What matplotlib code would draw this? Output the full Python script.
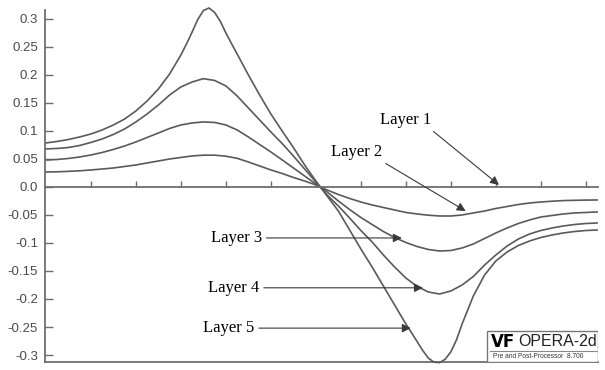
import matplotlib
matplotlib.use("Agg")
import matplotlib.pyplot as plt
from matplotlib.patches import Rectangle

# position along the line (arbitrary units, curves cross near 0)
x_pos = [-60, -57.5, -55, -52.5, -50, -47.5, -45, -42.5, -40, -37.5, -35, -32.5,
         -30, -27.5, -25, -22.5, -20, -17.5, -15, -12.5, -10, -7.5, -5, -2.5,
         0, 2.5, 5, 7.5, 10, 12.5, 15, 17.5, 20, 22.5, 25, 27.5,
         30, 32.5, 35, 37.5, 40, 42.5, 45, 47.5, 50, 52.5, 55, 57.5, 60, 62.5]

# field values, one list per layer
layer2 = [0.0268, 0.0271, 0.0279, 0.0289, 0.0304, 0.0321, 0.0339, 0.0366, 0.0393, 0.0429,
          0.0464, 0.0500, 0.0527, 0.0554, 0.0568, 0.0568, 0.0550, 0.0512, 0.0446, 0.0375,
          0.0304, 0.0241, 0.0170, 0.0107, 0.0036, -0.0054, -0.0134, -0.0205, -0.0268, -0.0321,
          -0.0366, -0.0411, -0.0455, -0.0482, -0.0504, -0.0518, -0.0518, -0.0500, -0.0464, -0.0429,
          -0.0384, -0.0348, -0.0313, -0.0286, -0.0268, -0.0254, -0.0243, -0.0238, -0.0234, -0.0232]
layer3 = [0.0482, 0.0491, 0.0509, 0.0536, 0.0571, 0.0616, 0.0670, 0.0732, 0.0804, 0.0884,
          0.0964, 0.1045, 0.1107, 0.1143, 0.1161, 0.1152, 0.1107, 0.1018, 0.0893, 0.0759,
          0.0625, 0.0484, 0.0340, 0.0196, 0.0054, -0.0089, -0.0250, -0.0402, -0.0545, -0.0670,
          -0.0795, -0.0902, -0.0991, -0.1063, -0.1116, -0.1143, -0.1134, -0.1089, -0.1018, -0.0920,
          -0.0821, -0.0732, -0.0652, -0.0589, -0.0536, -0.0509, -0.0482, -0.0464, -0.0455, -0.0446]
layer4 = [0.0679, 0.0688, 0.0705, 0.0741, 0.0795, 0.0857, 0.0938, 0.1036, 0.1161, 0.1304,
          0.1464, 0.1643, 0.1786, 0.1875, 0.1934, 0.1902, 0.1804, 0.1625, 0.1411, 0.1196,
          0.0982, 0.0777, 0.0554, 0.0321, 0.0089, -0.0143, -0.0339, -0.0554, -0.0777, -0.0982,
          -0.1214, -0.1429, -0.1625, -0.1777, -0.1875, -0.1911, -0.1857, -0.1750, -0.1598, -0.1393,
          -0.1214, -0.1054, -0.0929, -0.0839, -0.0777, -0.0732, -0.0696, -0.0670, -0.0652, -0.0643]

# layer 5 has sharper extremes, so it was read at a few extra positions
x_pos5 = [-60, -57.5, -55, -52.5, -50, -47.5, -45, -42.5, -40, -37.5, -35, -32.5,
          -30, -28.75, -27.5, -26.25, -25, -23.75, -22.5, -21.25, -20, -18.75, -17.5,
          -15, -12.5, -10, -7.5, -5, -2.5, 0, 2.5, 5, 7.5, 10, 12.5, 15, 17.5, 20,
          22.5, 23.75, 25, 26.25, 27.5, 28.75, 30, 31.25, 32.5, 35, 37.5, 40,
          42.5, 45, 47.5, 50, 52.5, 55, 57.5, 60, 62.5]
layer5 = [0.0786, 0.0813, 0.0848, 0.0893, 0.0946, 0.1018, 0.1107, 0.1214, 0.1357, 0.1536,
          0.1750, 0.2018, 0.2357, 0.2554, 0.2768, 0.2990, 0.3150, 0.3196, 0.3116, 0.2960,
          0.2750, 0.2560, 0.2375, 0.2000, 0.1643, 0.1304, 0.1000, 0.0705, 0.0393, 0.0107,
          -0.0161, -0.0429, -0.0768, -0.1107, -0.1429, -0.1768, -0.2107, -0.2446,
          -0.2759, -0.2920, -0.3055, -0.3128, -0.3136, -0.3075, -0.2945, -0.2730, -0.2446,
          -0.1946, -0.1571, -0.1321, -0.1161, -0.1045, -0.0964, -0.0902, -0.0857, -0.0821,
          -0.0795, -0.0777, -0.0768]

y_ticks = [0.3, 0.25, 0.2, 0.15, 0.1, 0.05, 0.0, -0.05, -0.1, -0.15, -0.2, -0.25, -0.3]
y_labels = ["0.3", "0.25", "0.2", "0.15", "0.1", "0.05", "0.0",
            "-0.05", "-0.1", "-0.15", "-0.2", "-0.25", "-0.3"]
x_ticks = [-50, -40, -30, -20, -10, 0, 10, 20, 30, 40, 50, 60]

fig = plt.figure(figsize=(6.05, 3.70), dpi=100)
ax = fig.add_axes([0.0744, 0.0216, 0.914, 0.9514])

line_col = "#5a5a5a"
for ys in (layer2, layer3, layer4):
    ax.plot(x_pos, ys, color=line_col, lw=1.2, clip_on=False)
ax.plot(x_pos5, layer5, color=line_col, lw=1.2, clip_on=False)

ax.set_xlim(-60.2, 62.7)
ax.set_ylim(-0.3125, 0.316)

# axis styling: zero line carries the x ticks, plain frame at the bottom
spine_col = "#6e6e6e"
for s in ("top", "right"):
    ax.spines[s].set_visible(False)
ax.spines["left"].set_color(spine_col)
ax.spines["left"].set_linewidth(1.3)
ax.spines["bottom"].set_position(("data", 0))
ax.spines["bottom"].set_color(spine_col)
ax.spines["bottom"].set_linewidth(1.3)

ax.set_xticks(x_ticks)
ax.tick_params(axis="x", direction="in", length=4, width=1, colors=spine_col,
               labelbottom=False)
ax.set_yticks(y_ticks)
ax.set_yticklabels(y_labels, fontname="Liberation Sans", fontsize=9.5, color="#4a4a4a")
ax.tick_params(axis="y", direction="in", length=6, width=1, color=spine_col, pad=5)

bottom = ax.secondary_xaxis("bottom")
bottom.set_xticks([])
bottom.spines["bottom"].set_color(spine_col)
bottom.spines["bottom"].set_linewidth(1.3)

# layer labels with arrows
arrow = dict(arrowstyle="-|>", color="#3a3a3a", lw=0.8, mutation_scale=13,
             shrinkA=1, shrinkB=0)
lab = dict(fontname="Liberation Serif", fontsize=12, color="black", va="center", ha="center")
ax.annotate("Layer 1", xy=(40.7, 0.0036), xytext=(20, 0.12),
            arrowprops=dict(arrow, relpos=(0.95, 0.0)), **lab)
ax.annotate("Layer 2", xy=(33.3, -0.043), xytext=(9.1, 0.0625),
            arrowprops=dict(arrow, relpos=(0.95, 0.0)), **lab)
ax.annotate("Layer 3", xy=(19.1, -0.091), xytext=(-17.6, -0.091),
            arrowprops=dict(arrow, relpos=(1.0, 0.5)), **lab)
ax.annotate("Layer 4", xy=(23.8, -0.180), xytext=(-18.2, -0.180),
            arrowprops=dict(arrow, relpos=(1.0, 0.5)), **lab)
ax.annotate("Layer 5", xy=(21.1, -0.252), xytext=(-19.3, -0.252),
            arrowprops=dict(arrow, relpos=(1.0, 0.5)), **lab)

# OPERA logo box in the lower right corner
ax.add_patch(Rectangle((0.799, 0.0), 0.201, 0.088, transform=ax.transAxes,
                       fill=True, fc="white", ec="#777777", lw=1.0, zorder=5))
ax.plot([0.805, 1.0], [0.031, 0.031], transform=ax.transAxes, color="#888888",
        lw=0.8, zorder=6)
ax.text(0.807, 0.058, "VF", transform=ax.transAxes, fontname="DejaVu Sans",
        fontweight="bold", fontsize=12, color="black", va="center", ha="left", zorder=6)
ax.text(0.855, 0.058, "OPERA-2d", transform=ax.transAxes, fontname="Liberation Sans",
        fontsize=11.5, color="#222222", va="center", ha="left", zorder=6)
ax.text(0.81, 0.016, "Pre and Post-Processor  8.700", transform=ax.transAxes,
        fontname="Liberation Sans", fontsize=4.8, color="#333333", va="center",
        ha="left", zorder=6)

fig.savefig("out.png", dpi=100)
